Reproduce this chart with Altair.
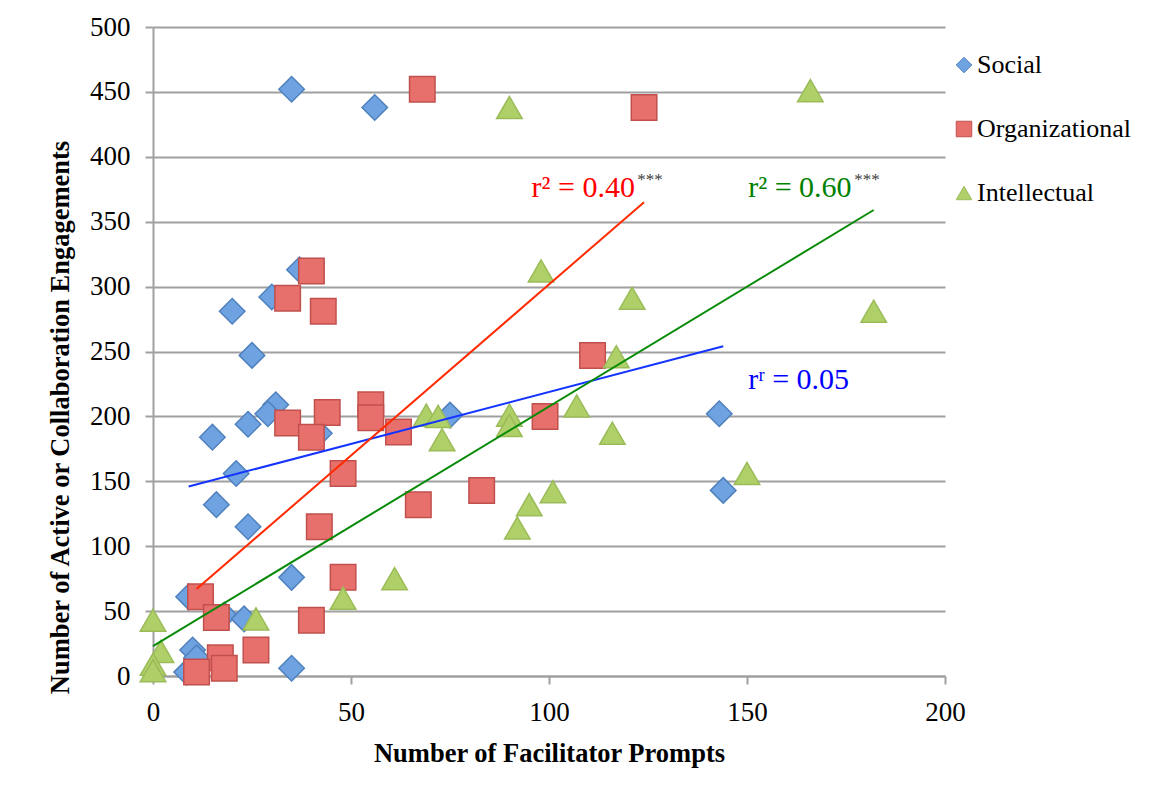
import altair as alt
import pandas as pd

series_names = ["Social", "Organizational", "Intellectual"]

social_x = [35, 56, 20, 37, 30, 25, 31, 29, 24, 15, 42, 21, 16, 24, 35, 75, 9, 18, 23, 10, 11, 8.5, 35, 143, 144]
social_y = [452, 438, 281, 313, 292, 247, 209, 202, 194, 184, 187, 156, 132, 115, 76, 201, 61, 47, 44, 20, 14, 3, 6, 202, 143]

org_x = [68, 124, 40, 34, 43, 111, 34, 44, 40, 55, 55, 62, 99, 48, 83, 67, 42, 48, 12, 16, 40, 26, 17, 18, 11]
org_y = [452, 438, 312, 291, 281, 247, 195, 203, 184, 209, 199, 188, 200, 156, 143, 132, 115, 76, 61, 45, 43, 20, 14, 6, 3]

int_x = [90, 166, 98, 121, 182, 117, 107, 69, 72, 90, 90, 73, 116, 150, 101, 95, 92, 61, 48, 26, 0, 2, 0, 0]
int_y = [438, 451, 312, 291, 281, 246, 208, 201, 200, 201, 193, 182, 187, 156, 142, 132, 114, 75, 60, 44, 43, 19, 9, 4]

# trend line end points
trend_names = ["Social", "Organizational", "Intellectual"]
trend_x0 = [9, 11, 0]
trend_y0 = [146, 67, 23]
trend_x1 = [144, 124, 182]
trend_y1 = [254, 365, 359]

# annotations
ann_text = ["r\u00b2 = 0.40", "r\u00b2 = 0.60", "r\u02b3 = 0.05"]
ann_x = [95.6, 150.3, 150.3]
ann_y = [369, 369, 221]
star_text = ["***", "***"]
star_x = [122.3, 177.1]
star_y = [378, 378]

fill_colors = ["#6fa2e0", "#e8706c", "#afd068"]
stroke_colors = ["#4f81bd", "#c0504d", "#9bbb59"]
shapes = ["diamond", "square", "triangle-up"]
line_colors = ["#1434ff", "#ff2a00", "#078a07"]
ann_colors = ["#ff0000", "#008000", "#0000ff"]

rows = []
for name, xs, ys in zip(series_names, [social_x, org_x, int_x], [social_y, org_y, int_y]):
    for a, b in zip(xs, ys):
        rows.append({"series": name, "x": a, "y": b})
points_df = pd.DataFrame(rows)
points_df["idx"] = range(len(points_df))

GRID = "#a0a0a0"
SERIF = "Liberation Serif"

xscale = alt.Scale(domain=[0, 200], nice=False)
yscale = alt.Scale(domain=[0, 500], nice=False)

xaxis = alt.Axis(values=[0, 50, 100, 150, 200], grid=False, domainColor=GRID, domainWidth=2,
                 tickColor=GRID, tickWidth=2, tickSize=8, labelFont=SERIF, labelFontSize=27,
                 labelColor="black", labelPadding=15, labelFlush=False,
                 title="Number of Facilitator Prompts",
                 titleFont=SERIF, titleFontSize=26.5, titleFontWeight="bold", titleColor="black",
                 titleY=85, titleBaseline="alphabetic")
yaxis = alt.Axis(values=list(range(0, 501, 50)), grid=True, gridColor=GRID, gridWidth=2,
                 domainColor=GRID, domainWidth=2, tickColor=GRID, tickWidth=2, tickSize=8,
                 labelFont=SERIF, labelFontSize=27, labelColor="black", labelPadding=15,
                 labelFlush=False,
                 title="Number of Active or Collaboration Engagements", titleFont=SERIF,
                 titleFontSize=26.5, titleFontWeight="bold", titleColor="black",
                 titleX=-85, titleY=390, titleBaseline="alphabetic", titleAngle=270)

legend = alt.Legend(title=None, orient="none", legendX=798, legendY=25, labelFont=SERIF,
                    labelFontSize=26, labelColor="black", symbolSize=240, rowPadding=38,
                    labelOffset=0, symbolStrokeWidth=1)

points = alt.Chart(points_df).mark_point(filled=True, size=650, strokeWidth=1.5, opacity=1).encode(
    x=alt.X("x:Q", scale=xscale, axis=xaxis),
    y=alt.Y("y:Q", scale=yscale, axis=yaxis),
    color=alt.Color("series:N", scale=alt.Scale(domain=series_names, range=fill_colors), legend=legend),
    shape=alt.Shape("series:N", scale=alt.Scale(domain=series_names, range=shapes), legend=legend),
    stroke=alt.Stroke("series:N", scale=alt.Scale(domain=series_names, range=stroke_colors), legend=legend),
    order=alt.Order("idx:Q"),
)

layers = [points]
for i, name in enumerate(trend_names):
    df = pd.DataFrame({"x": [trend_x0[i], trend_x1[i]], "y": [trend_y0[i], trend_y1[i]]})
    layers.append(alt.Chart(df).mark_line(color=line_colors[i], strokeWidth=2).encode(
        x=alt.X("x:Q", scale=xscale), y=alt.Y("y:Q", scale=yscale)))

for i in range(len(ann_text)):
    df = pd.DataFrame({"x": [ann_x[i]], "y": [ann_y[i]], "t": [ann_text[i]]})
    layers.append(alt.Chart(df).mark_text(color=ann_colors[i], font=SERIF, fontSize=30,
                                          align="left", baseline="alphabetic").encode(
        x=alt.X("x:Q", scale=xscale), y=alt.Y("y:Q", scale=yscale), text="t:N"))

for i in range(len(star_text)):
    df = pd.DataFrame({"x": [star_x[i]], "y": [star_y[i]], "t": [star_text[i]]})
    layers.append(alt.Chart(df).mark_text(color="#404040", font=SERIF, fontSize=17,
                                          align="left", baseline="alphabetic").encode(
        x=alt.X("x:Q", scale=xscale), y=alt.Y("y:Q", scale=yscale), text="t:N"))

chart = alt.layer(*layers, data=None).properties(
    width=792, height=649,
    autosize=alt.AutoSizeParams(type="none"),
    padding={"left": 145, "top": 19, "right": 200, "bottom": 95},
    background="white",
).configure_view(stroke=None)

chart.save("out.html", embed_options={"renderer": "svg", "actions": False})
